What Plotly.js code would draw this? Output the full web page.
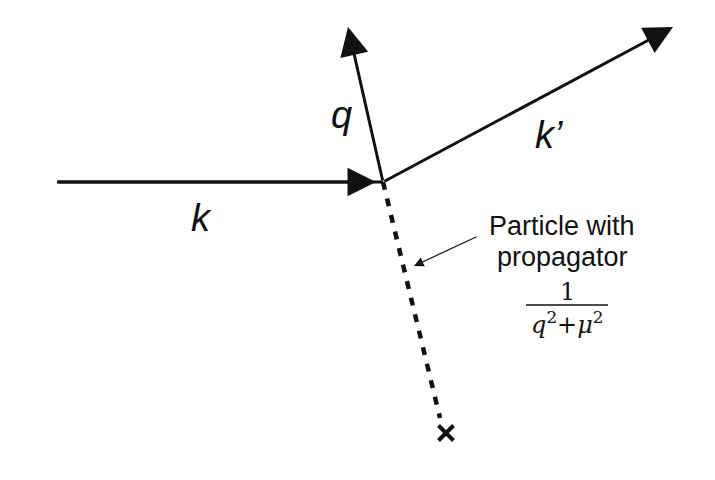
<!DOCTYPE html>
<html>
<head>
<meta charset="utf-8">
<script src="https://cdn.plot.ly/plotly-3.0.1.min.js"></script>
<style>html,body{margin:0;padding:0;background:#fff}</style>
</head>
<body>
<div id="chart" style="width:715px;height:480px"></div>
<script>
// diagram points, in picture pixels (x right, y down)
const vertex = [383, 182];
const inStart = [57, 182];
const inTip = [376, 182];
const qTip = [348, 27];
const kOutTip = [673, 27];
const dashEnd = [440, 418];
const sourceMark = [446, 433];
const noteArrowFrom = [478, 236];
const noteArrowTo = [414, 266];

const labels = ["<i>k</i>", "<i>q</i>", "<i>k’</i>"];
const labelX = [201, 341, 549];
const labelY = [218, 115, 135];
const noteLines = ["Particle with", "propagator"];
const noteY = [226, 257];
const fraction = { num: "1", den: "<i>q</i><sup>2</sup>+<i>μ</i><sup>2</sup>", x: 567, numY: 292, barY: 305, denY: 323, barHalf: 41 };

const traces = [
    {
        x: [inStart[0], vertex[0]], y: [inStart[1], vertex[1]],
        mode: "lines", line: { color: "#111", width: 3 }, hoverinfo: "skip",
    },
    {
        x: [vertex[0], dashEnd[0]], y: [vertex[1], dashEnd[1]],
        mode: "lines", line: { color: "#111", width: 4.5, dash: "8px,9px" }, hoverinfo: "skip",
    },
    {
        x: [sourceMark[0]], y: [sourceMark[1]],
        mode: "markers", marker: { symbol: "x-thin", size: 15, line: { color: "#111", width: 4 } },
        hoverinfo: "skip",
    },
];

function arrow(from, to, width, size) {
    return {
        x: to[0], y: to[1], ax: from[0], ay: from[1],
        xref: "x", yref: "y", axref: "x", ayref: "y",
        text: "", showarrow: true, arrowhead: 2, arrowsize: size,
        arrowwidth: width, arrowcolor: "#111", standoff: 0, startstandoff: 0,
    };
}

const annotations = [
    arrow(inStart, inTip, 3, 1.9),
    arrow(vertex, qTip, 3, 1.9),
    arrow(vertex, kOutTip, 3, 1.9),
    arrow(noteArrowFrom, noteArrowTo, 1.2, 1.6),
];
labels.forEach((t, i) => annotations.push({
    x: labelX[i], y: labelY[i], xref: "x", yref: "y", text: t, showarrow: false,
    font: { family: "Liberation Sans, Arial, sans-serif", size: 38, color: "#111" },
}));
noteLines.forEach((t, i) => annotations.push({
    x: 562, y: noteY[i], xref: "x", yref: "y", text: t, showarrow: false,
    font: { family: "Liberation Sans, Arial, sans-serif", size: 27, color: "#111" },
}));
annotations.push({
    x: fraction.x, y: fraction.numY, xref: "x", yref: "y", text: fraction.num, showarrow: false,
    font: { family: "DejaVu Serif, serif", size: 24, color: "#111" },
});
annotations.push({
    x: fraction.x, y: fraction.denY, xref: "x", yref: "y", text: fraction.den, showarrow: false,
    font: { family: "DejaVu Serif, serif", size: 24, color: "#111" },
});

Plotly.newPlot("chart", traces, {
    width: 715, height: 480,
    margin: { t: 0, r: 0, b: 0, l: 0 },
    paper_bgcolor: "#fff", plot_bgcolor: "#fff",
    showlegend: false,
    xaxis: { range: [0, 715], visible: false, fixedrange: true },
    yaxis: { range: [480, 0], visible: false, fixedrange: true },
    shapes: [{
        type: "line", xref: "x", yref: "y",
        x0: fraction.x - fraction.barHalf, x1: fraction.x + fraction.barHalf,
        y0: fraction.barY, y1: fraction.barY,
        line: { color: "#111", width: 1.5 },
    }],
    annotations,
}, { displayModeBar: false, staticPlot: true });
</script>
</body>
</html>
